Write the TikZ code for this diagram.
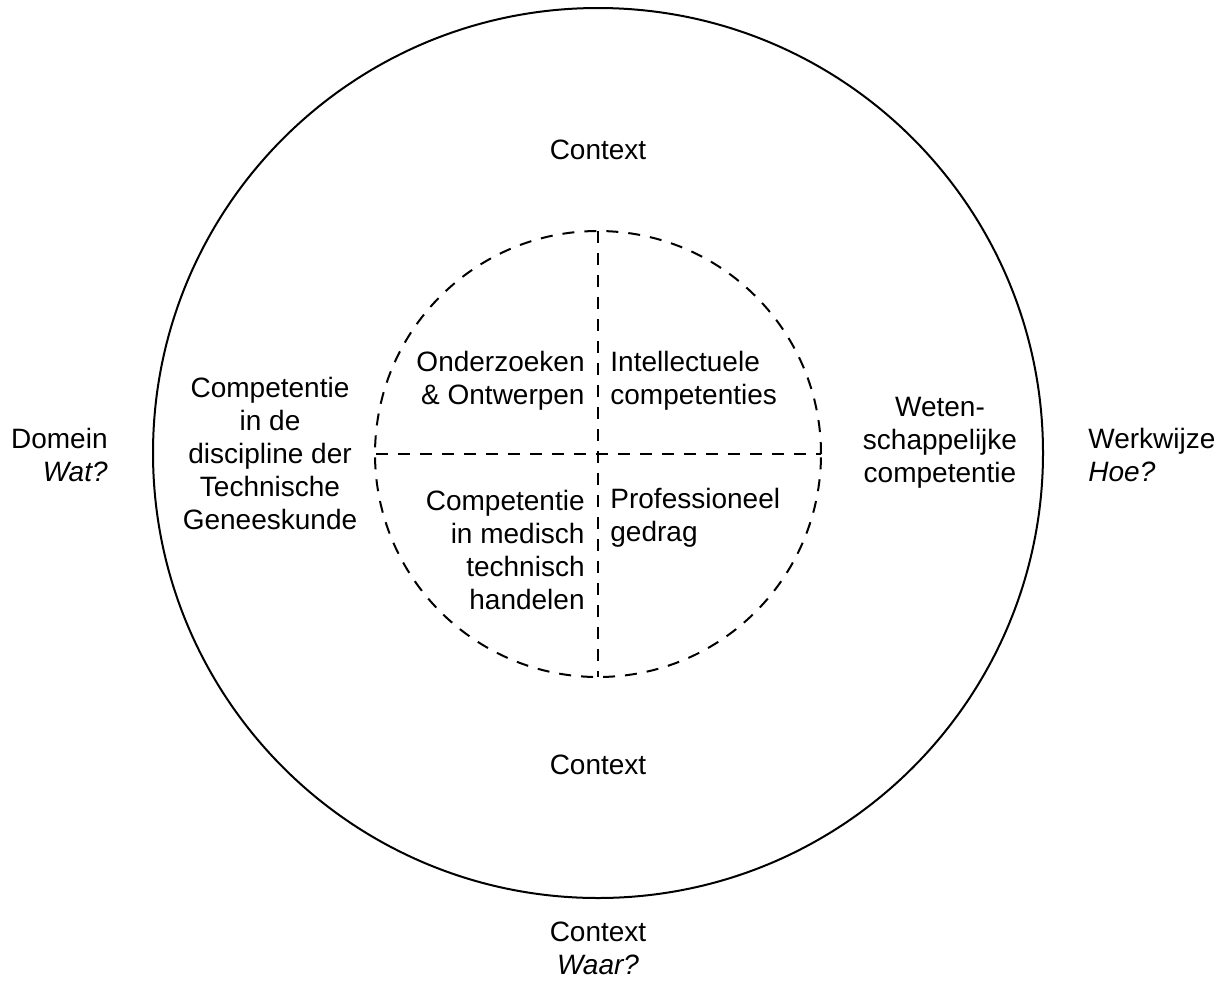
\documentclass[tikz,border=0pt]{standalone}
\usepackage{fontspec}
\setmainfont{Liberation Sans}
\begin{document}
\begin{tikzpicture}[x=0.5pt,y=-0.5pt,
  lbl/.style={inner sep=0pt, font=\fontsize{14}{16.5}\selectfont},
  dsh/.style={line width=1pt, dash pattern=on 6pt off 5pt},
  ring/.style={line width=1pt}]
\useasboundingbox (0,0) rectangle (1230,980);
\coordinate (c) at (598,453);
\coordinate (ci) at (598,454);
% outer circle
\draw[ring] (c) circle[radius=222.5pt];
% inner dashed circle
\draw[dsh] (ci) circle[radius=111.5pt];
\coordinate (itop) at (598,231);
\coordinate (ibot) at (598,677);
\coordinate (ileft) at (376,454);
\coordinate (iright) at (821,454);
\draw[dsh] (itop) -- (ibot);
\draw[dsh] (ileft) -- (iright);
% labels
\node[lbl] (ctxtop) at (598,150) {Context};
\node[lbl] (ctxbot) at (598,765) {Context};
\node[lbl, align=center] (ctxout) at (598,948) {Context\\\itshape Waar?};
\node[lbl, align=right, anchor=east] (domein) at (108,455) {Domein\\\itshape Wat?};
\node[lbl, align=left, anchor=west] (werk) at (1088,455) {Werkwijze\\\itshape Hoe?};
\node[lbl, align=center] (disc) at (270,453) {Competentie\\in de\\discipline der\\Technische\\Geneeskunde};
\node[lbl, align=center] (weten) at (940,443) {Weten-\\schappelijke\\competentie};
\node[lbl, align=right, anchor=east] (ond) at (585,381) {Onderzoeken\\\& Ontwerpen};
\node[lbl, align=left, anchor=west] (intel) at (610,381) {Intellectuele\\competenties};
\node[lbl, align=right, anchor=east] (med) at (585,550) {Competentie\\in medisch\\technisch\\handelen};
\node[lbl, align=left, anchor=west] (prof) at (610,518) {Professioneel\\gedrag};
\end{tikzpicture}
\end{document}
